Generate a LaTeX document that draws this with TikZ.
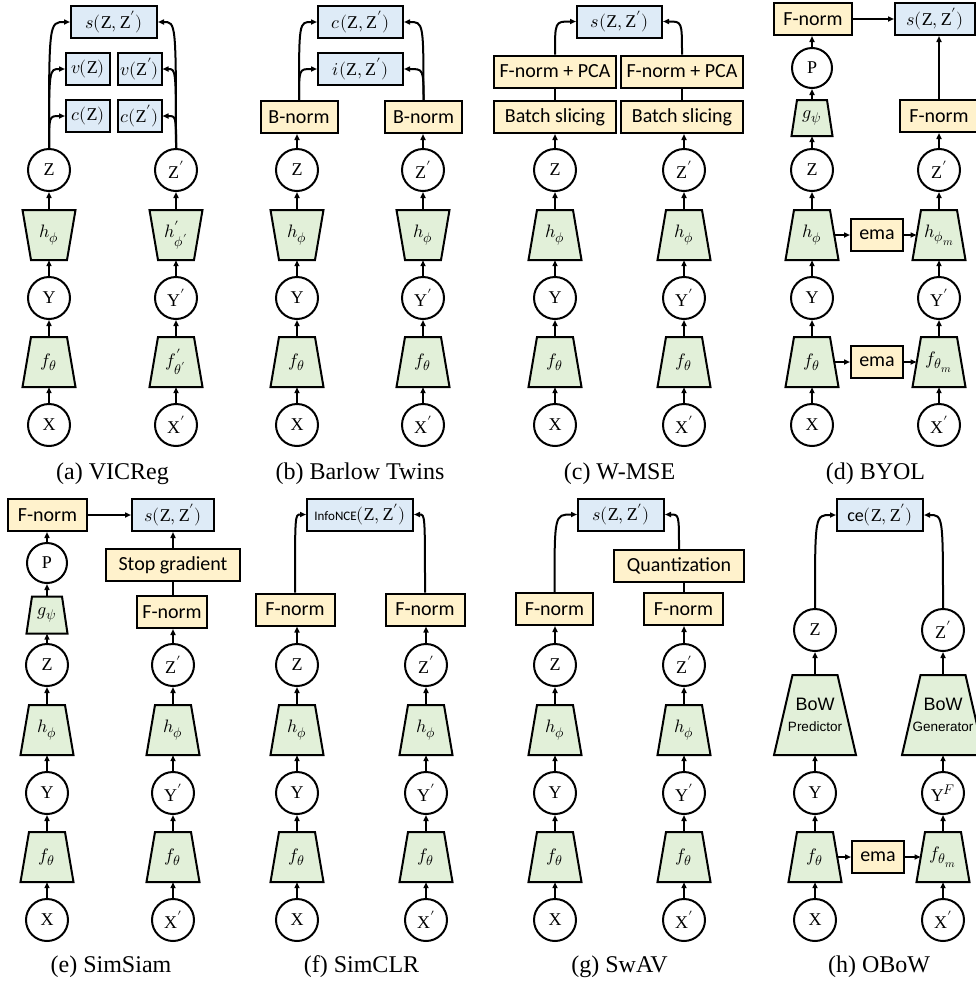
\documentclass[tikz,border=0pt]{standalone}
\usepackage{fontspec}
\usepackage{unicode-math}
\setmainfont{Liberation Serif}
\newfontfamily\calfont{Carlito}
\newfontfamily\arfont{Liberation Sans}
\usetikzlibrary{arrows.meta}
\DeclareMathSizes{18}{18}{14}{11}
\definecolor{bxblue}{HTML}{DEEBF7}
\definecolor{bxyel}{HTML}{FFF2CC}
\definecolor{trgreen}{HTML}{E2F0D9}
\newcommand{\mfs}{\fontsize{18}{20}\selectfont}
\newcommand{\bfs}{\fontsize{20}{22}\selectfont\calfont}
\tikzset{
 base/.style={line width=2pt},
 circ/.style={base, circle, draw, fill=white, minimum size=42pt, inner sep=0pt, font=\mfs},
 mbox/.style={base, draw, fill=bxblue, minimum height=32pt, inner sep=0pt, font=\mfs},
 ybox/.style={base, draw, fill=bxyel, minimum height=32pt, inner sep=0pt, font=\bfs},
 trapdraw/.style={base, draw, fill=trgreen, line join=miter},
 trapnode/.style={inner sep=0pt, font=\mfs, align=center},
 arr/.style={base, -{Triangle[length=6pt,width=5pt]}},
 ln/.style={base},
 captxt/.style={font=\fontsize{24}{26}\selectfont}
}
% name, x, y, top half-width, bottom half-width, half height, label
\newcommand{\Trap}[7]{%
 \draw[trapdraw] ({#2-(#4)},{#3-(#6)}) -- ({#2+(#4)},{#3-(#6)}) -- ({#2+(#5)},{#3+(#6)}) -- ({#2-(#5)},{#3+(#6)}) -- cycle;
 \node[trapnode, minimum width={(#4)+(#5)}, minimum height={2*(#6)}] (#1) at ({#2},{#3}) {#7};}
% prefix, x, row offset, X label, f label, Y label
\newcommand{\Low}[6]{%
 \node[circ] (#1X) at ({#2},{425+#3}) {#4};
 \Trap{#1f}{#2}{362+#3}{18}{26.5}{25}{#5}
 \node[circ] (#1Y) at ({#2},{298+#3}) {#6};
 \draw[arr] (#1X.north) -- (#1f.south);
 \draw[arr] (#1f.north) -- (#1Y.south);}
% prefix, x, row offset, h label, Z label, top hw, bottom hw
\newcommand{\Mid}[7]{%
 \Trap{#1h}{#2}{235+#3}{#6}{#7}{25}{#4}
 \node[circ] (#1Z) at ({#2},{170+#3}) {#5};
 \draw[arr] (#1Y.north) -- (#1h.south);
 \draw[arr] (#1h.north) -- (#1Z.south);}
\begin{document}
\begin{tikzpicture}[x=1pt,y=-1pt]
\useasboundingbox (0,0) rectangle (976,983);
% ---------------- (a) VICReg
\Low{A}{49}{0}{$\mathrm{X}$}{$f_{\theta}$}{$\mathrm{Y}$}
\Low{A2}{176}{0}{$\mathrm{X}'$}{$f'_{\theta'}$}{$\mathrm{Y}'$}
\Mid{A}{49}{0}{$h_{\phi}$}{$\mathrm{Z}$}{26.5}{18}
\Mid{A2}{176}{0}{$h'_{\phi'}$}{$\mathrm{Z}'$}{26.5}{18}
\node[mbox, minimum width=44pt] (Acz) at (88,116) {$c(\mathrm{Z})$};
\node[mbox, minimum width=44pt] (A2cz) at (139.5,116) {$c(\mathrm{Z}')$};
\node[mbox, minimum width=44pt] (Avz) at (88,69) {$v(\mathrm{Z})$};
\node[mbox, minimum width=44pt] (A2vz) at (139.5,69) {$v(\mathrm{Z}')$};
\node[mbox, minimum width=86pt] (As) at (114,22) {$s(\mathrm{Z},\mathrm{Z}')$};
\draw[arr] (AZ.north) .. controls (AZ.north |- Acz.west) .. (Acz.west);
\draw[arr] (AZ.north) .. controls (AZ.north |- Avz.west) .. (Avz.west);
\draw[arr] (AZ.north) .. controls (AZ.north |- As.west) .. (As.west);
\draw[arr] (A2Z.north) .. controls (A2Z.north |- A2cz.east) .. (A2cz.east);
\draw[arr] (A2Z.north) .. controls (A2Z.north |- A2vz.east) .. (A2vz.east);
\draw[arr] (A2Z.north) .. controls (A2Z.north |- As.east) .. (As.east);
\node[captxt] (Acap) at (112.5,474) {(a) VICReg};
% ---------------- (b) Barlow Twins
\Low{B}{297}{0}{$\mathrm{X}$}{$f_{\theta}$}{$\mathrm{Y}$}
\Low{B2}{423}{0}{$\mathrm{X}'$}{$f_{\theta}$}{$\mathrm{Y}'$}
\Mid{B}{297}{0}{$h_{\phi}$}{$\mathrm{Z}$}{26.5}{18}
\Mid{B2}{423}{0}{$h_{\phi}$}{$\mathrm{Z}'$}{26.5}{18}
\node[ybox, minimum width=77pt] (Bbn) at (299,117) {B-norm};
\node[ybox, minimum width=77pt] (B2bn) at (423.5,117) {B-norm};
\node[mbox, minimum width=85pt] (Bi) at (360.5,69) {$i(\mathrm{Z},\mathrm{Z}')$};
\node[mbox, minimum width=85pt] (Bc) at (360.5,22) {$c(\mathrm{Z},\mathrm{Z}')$};
\draw[arr] (BZ.north) -- (BZ.north |- Bbn.south);
\draw[arr] (B2Z.north) -- (B2Z.north |- B2bn.south);
\draw[arr] (Bbn.north) .. controls (Bbn.north |- Bi.west) .. (Bi.west);
\draw[arr] (Bbn.north) .. controls (Bbn.north |- Bc.west) .. (Bc.west);
\draw[arr] (B2bn.north) .. controls (B2bn.north |- Bi.east) .. (Bi.east);
\draw[arr] (B2bn.north) .. controls (B2bn.north |- Bc.east) .. (Bc.east);
\node[captxt] (Bcap) at (360,474) {(b) Barlow Twins};
% ---------------- (c) W-MSE
\Low{C}{555}{0}{$\mathrm{X}$}{$f_{\theta}$}{$\mathrm{Y}$}
\Low{C2}{684}{0}{$\mathrm{X}'$}{$f_{\theta}$}{$\mathrm{Y}'$}
\Mid{C}{555}{0}{$h_{\phi}$}{$\mathrm{Z}$}{18}{26.5}
\Mid{C2}{684}{0}{$h_{\phi}$}{$\mathrm{Z}'$}{18}{26.5}
\node[ybox, minimum width=122pt] (Cbs) at (555,117) {Batch slicing};
\node[ybox, minimum width=122pt] (C2bs) at (682,117) {Batch slicing};
\node[ybox, minimum width=122pt] (Cfp) at (555,71.5) {F-norm + PCA};
\node[ybox, minimum width=122pt] (C2fp) at (682,71.5) {F-norm + PCA};
\node[mbox, minimum width=85pt] (Cs) at (619.5,21.5) {$s(\mathrm{Z},\mathrm{Z}')$};
\draw[arr] (CZ.north) -- (CZ.north |- Cbs.south);
\draw[arr] (C2Z.north) -- (C2Z.north |- C2bs.south);
\draw[ln] (Cbs.north) -- (Cfp.south);
\draw[ln] (C2bs.north) -- (C2fp.south);
\draw[arr] (Cfp.north) .. controls (Cfp.north |- Cs.west) .. (Cs.west);
\draw[arr] (C2fp.north) .. controls (C2fp.north |- Cs.east) .. (Cs.east);
\node[captxt] (Ccap) at (619.5,474) {(c) W-MSE};
% ---------------- (d) BYOL
\Low{D}{812}{0}{$\mathrm{X}$}{$f_{\theta}$}{$\mathrm{Y}$}
\Low{D2}{939}{0}{$\mathrm{X}'$}{$f_{\theta_m}$}{$\mathrm{Y}'$}
\Mid{D}{812}{0}{$h_{\phi}$}{$\mathrm{Z}$}{18}{26.5}
\Mid{D2}{939}{0}{$h_{\phi_m}$}{$\mathrm{Z}'$}{18}{26.5}
\node[ybox, minimum width=52pt] (Dema1) at (877,235) {ema};
\node[ybox, minimum width=52pt] (Dema2) at (877,362) {ema};
\Trap{Dg}{812}{118}{15}{20.5}{18}{$g_{\psi}$}
\node[circ, minimum size=40pt] (DP) at (812,68) {$\mathrm{P}$};
\node[ybox, minimum width=78pt] (Dfn) at (813,19) {F-norm};
\node[mbox, minimum width=80pt] (Ds) at (935,19) {$s(\mathrm{Z},\mathrm{Z}')$};
\node[ybox, minimum width=78pt] (D2fn) at (939,116) {F-norm};
\draw[arr] (DZ.north) -- (Dg.south);
\draw[arr] (Dg.north) -- (DP.south);
\draw[arr] (DP.north) -- (DP.north |- Dfn.south);
\draw[arr] (Dfn.east) -- (Ds.west);
\draw[arr] (D2Z.north) -- (D2fn.south);
\draw[arr] (D2fn.north) -- (D2fn.north |- Ds.south);
\draw[arr] (Dh.east) -- (Dema1.west);
\draw[arr] (Dema1.east) -- (D2h.west);
\draw[arr] (Df.east) -- (Dema2.west);
\draw[arr] (Dema2.east) -- (D2f.west);
\node[captxt] (Dcap) at (875.5,474) {(d) BYOL};
% ---------------- (e) SimSiam
\Low{E}{47}{495}{$\mathrm{X}$}{$f_{\theta}$}{$\mathrm{Y}$}
\Low{E2}{173}{495}{$\mathrm{X}'$}{$f_{\theta}$}{$\mathrm{Y}'$}
\Mid{E}{47}{495}{$h_{\phi}$}{$\mathrm{Z}$}{18}{26.5}
\Mid{E2}{173}{495}{$h_{\phi}$}{$\mathrm{Z}'$}{18}{26.5}
\Trap{Eg}{47}{615}{15}{20.5}{18.5}{$g_{\psi}$}
\node[circ, minimum size=40pt] (EP) at (47,563) {$\mathrm{P}$};
\node[ybox, minimum width=79pt] (Efn) at (47.5,515) {F-norm};
\node[mbox, minimum width=82pt] (Es) at (173,515) {$s(\mathrm{Z},\mathrm{Z}')$};
\node[ybox, minimum width=134pt] (Esg) at (173,565) {Stop gradient};
\node[ybox, minimum width=70pt] (E2fn) at (172,612) {F-norm};
\draw[arr] (EZ.north) -- (Eg.south);
\draw[arr] (Eg.north) -- (EP.south);
\draw[arr] (EP.north) -- (EP.north |- Efn.south);
\draw[arr] (Efn.east) -- (Es.west);
\draw[arr] (E2Z.north) -- (E2Z.north |- E2fn.south);
\draw[ln] (E2Z.north |- E2fn.north) -- (E2Z.north |- Esg.south);
\draw[arr] (Esg.north) -- (Es.south);
\node[captxt] (Ecap) at (111,967) {(e) SimSiam};
% ---------------- (f) SimCLR
\Low{F}{297}{495}{$\mathrm{X}$}{$f_{\theta}$}{$\mathrm{Y}$}
\Low{F2}{426}{495}{$\mathrm{X}'$}{$f_{\theta}$}{$\mathrm{Y}'$}
\Mid{F}{297}{495}{$h_{\phi}$}{$\mathrm{Z}$}{18}{26.5}
\Mid{F2}{426}{495}{$h_{\phi}$}{$\mathrm{Z}'$}{18}{26.5}
\node[ybox, minimum width=79pt] (Ffn) at (295,609.5) {F-norm};
\node[ybox, minimum width=79pt] (F2fn) at (425,609.5) {F-norm};
\node[mbox, minimum width=106pt] (Finfo) at (360,514.5) {{\calfont\fontsize{13}{15}\selectfont InfoNCE}$(\mathrm{Z},\mathrm{Z}')$};
\draw[arr] (FZ.north) -- (FZ.north |- Ffn.south);
\draw[arr] (F2Z.north) -- (F2Z.north |- F2fn.south);
\draw[arr] (Ffn.north) .. controls (Ffn.north |- Finfo.west) .. (Finfo.west);
\draw[arr] (F2fn.north) .. controls (F2fn.north |- Finfo.east) .. (Finfo.east);
\node[captxt] (Fcap) at (361.5,967) {(f) SimCLR};
% ---------------- (g) SwAV
\Low{G}{555}{495}{$\mathrm{X}$}{$f_{\theta}$}{$\mathrm{Y}$}
\Low{G2}{684}{495}{$\mathrm{X}'$}{$f_{\theta}$}{$\mathrm{Y}'$}
\Mid{G}{555}{495}{$h_{\phi}$}{$\mathrm{Z}$}{18}{26.5}
\Mid{G2}{684}{495}{$h_{\phi}$}{$\mathrm{Z}'$}{18}{26.5}
\node[mbox, minimum width=86pt] (Gs) at (621,514.5) {$s(\mathrm{Z},\mathrm{Z}')$};
\node[ybox, minimum width=77pt] (Gfn) at (554.5,609) {F-norm};
\node[ybox, minimum width=79pt] (G2fn) at (683.5,609) {F-norm};
\node[ybox, minimum width=130pt] (Gq) at (679,566) {Quantization};
\draw[arr] (GZ.north) -- (GZ.north |- Gfn.south);
\draw[arr] (G2Z.north) -- (G2Z.north |- G2fn.south);
\draw[ln] (G2Z.north |- G2fn.north) -- (G2Z.north |- Gq.south);
\draw[arr] (Gfn.north) .. controls (Gfn.north |- Gs.west) .. (Gs.west);
\draw[arr] (Gq.north) .. controls (Gq.north |- Gs.east) .. (Gs.east);
\node[captxt] (Gcap) at (619.5,967) {(g) SwAV};
% ---------------- (h) OBoW
\Low{H}{815}{495}{$\mathrm{X}$}{$f_{\theta}$}{$\mathrm{Y}$}
\Low{H2}{943}{495}{$\mathrm{X}'$}{$f_{\theta_m}$}{$\mathrm{Y}^{F}$}
\Trap{Hh}{815}{715}{22.5}{41}{40}{{\arfont\fontsize{18}{20}\selectfont BoW}\\[1pt]{\arfont\fontsize{13.5}{15}\selectfont Predictor}}
\Trap{H2h}{943}{715}{22.5}{41}{40}{{\arfont\fontsize{18}{20}\selectfont BoW}\\[1pt]{\arfont\fontsize{13.5}{15}\selectfont Generator}}
\node[circ] (HZ) at (815,630) {$\mathrm{Z}$};
\node[circ] (H2Z) at (943,630) {$\mathrm{Z}'$};
\draw[arr] (HY.north) -- (Hh.south);
\draw[arr] (Hh.north) -- (HZ.south);
\draw[arr] (H2Y.north) -- (H2h.south);
\draw[arr] (H2h.north) -- (H2Z.south);
\node[mbox, minimum width=86pt] (Hce) at (880,515) {{\calfont\fontsize{18}{20}\selectfont ce}$(\mathrm{Z},\mathrm{Z}')$};
\node[ybox, minimum width=52pt] (Hema) at (878,857) {ema};
\draw[arr] (Hf.east) -- (Hema.west);
\draw[arr] (Hema.east) -- (H2f.west);
\draw[arr] (HZ.north) .. controls (HZ.north |- Hce.west) .. (Hce.west);
\draw[arr] (H2Z.north) .. controls (H2Z.north |- Hce.east) .. (Hce.east);
\node[captxt] (Hcap) at (879,967) {(h) OBoW};
\end{tikzpicture}
\end{document}
